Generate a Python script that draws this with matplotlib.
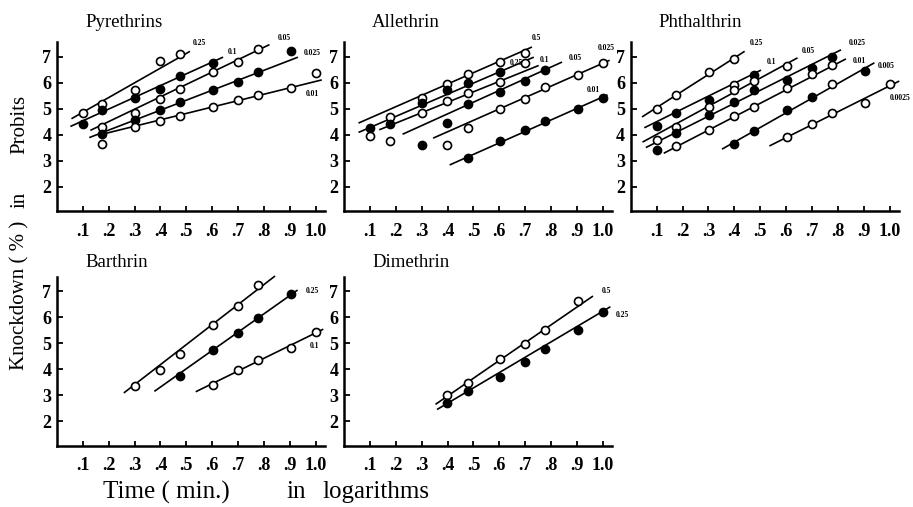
import matplotlib
matplotlib.use("Agg")
import matplotlib.pyplot as plt

# ---------------- data (x = log10 time, y = probit) ----------------
# Pyrethrins
pyr_conc = ["0.25", "0.1", "0.05", "0.025", "0.01"]
pyr_x = [[0.1, 0.176, 0.301, 0.398, 0.477],
         [0.1, 0.176, 0.301, 0.398, 0.477, 0.602],
         [0.176, 0.301, 0.398, 0.477, 0.602, 0.699, 0.778],
         [0.176, 0.301, 0.398, 0.477, 0.602, 0.699, 0.778, 0.903],
         [0.176, 0.301, 0.398, 0.477, 0.602, 0.699, 0.778, 0.903, 1.0]]
pyr_y = [[4.82, 5.17, 5.72, 6.83, 7.09],
         [4.40, 4.95, 5.42, 5.74, 6.26, 6.77],
         [4.31, 4.85, 5.37, 5.76, 6.42, 6.81, 7.28],
         [4.03, 4.56, 4.95, 5.27, 5.72, 6.04, 6.42, 7.22],
         [3.64, 4.31, 4.54, 4.73, 5.05, 5.33, 5.53, 5.78, 6.36]]
pyr_fill = [[0] * 5, [1] * 6, [0] * 7, [1] * 8, [0] * 9]
pyr_line_x = [(0.059, 0.511), (0.055, 0.639), (0.132, 0.818), (0.128, 0.928), (0.164, 1.02)]
pyr_line_y = [(4.63, 7.19), (4.33, 6.97), (4.18, 7.45), (3.90, 6.97), (3.99, 6.10)]

# Allethrin
all_conc = ["0.5", "0.25", "0.1", "0.05", "0.025", "0.01"]
all_x = [[0.301, 0.398, 0.477, 0.602, 0.699],
         [0.1, 0.176, 0.301, 0.398, 0.477, 0.602, 0.699],
         [0.1, 0.176, 0.301, 0.398, 0.477, 0.602],
         [0.176, 0.398, 0.477, 0.602, 0.699, 0.778],
         [0.301, 0.398, 0.477, 0.602, 0.699, 0.778, 0.903, 1.0],
         [0.477, 0.602, 0.699, 0.778, 0.903, 1.0]]
all_y = [[5.43, 5.94, 6.35, 6.81, 7.14],
         [4.24, 4.68, 5.23, 5.71, 5.97, 6.42, 6.75],
         [3.94, 4.42, 4.85, 5.30, 5.62, 6.01],
         [3.77, 4.46, 5.19, 5.65, 6.05, 6.48],
         [3.62, 3.62, 4.24, 4.97, 5.39, 5.84, 6.30, 6.75],
         [3.10, 3.75, 4.20, 4.52, 4.97, 5.43]]
all_fill = [[0, 0, 0, 0, 0],
            [1, 0, 1, 1, 1, 1, 0],
            [0, 1, 0, 0, 0, 0],
            [0, 1, 1, 1, 1, 1],
            [1, 0, 0, 0, 0, 0, 0, 0],
            [1, 1, 1, 1, 1, 1]]
all_line_x = [(0.059, 0.723), (0.059, 0.730), (0.139, 0.749), (0.229, 0.839), (0.347, 1.023), (0.411, 1.015)]
all_line_y = [(4.46, 7.36), (4.10, 6.97), (4.20, 6.65), (4.03, 6.78), (3.88, 6.85), (2.85, 5.52)]

# Phthalthrin
pht_conc = ["0.25", "0.1", "0.05", "0.025", "0.01", "0.005", "0.0025"]
pht_x = [[0.1, 0.176, 0.301, 0.398],
         [0.1, 0.176, 0.301, 0.398, 0.477],
         [0.1, 0.176, 0.301, 0.398, 0.477, 0.602],
         [0.1, 0.176, 0.301, 0.398, 0.477, 0.602, 0.699, 0.778],
         [0.176, 0.301, 0.398, 0.477, 0.602, 0.699, 0.778],
         [0.398, 0.477, 0.602, 0.699, 0.778, 0.903],
         [0.602, 0.699, 0.778, 0.903, 1.0]]
pht_y = [[4.97, 5.54, 6.41, 6.91],
         [4.34, 4.85, 5.35, 5.92, 6.30],
         [3.80, 4.30, 5.08, 5.71, 6.08, 6.66],
         [3.42, 4.05, 4.75, 5.27, 5.71, 6.09, 6.58, 7.00],
         [3.58, 4.18, 4.72, 5.08, 5.80, 6.34, 6.68],
         [3.65, 4.13, 4.95, 5.46, 5.95, 6.46],
         [3.90, 4.41, 4.82, 5.23, 5.95]]
pht_fill = [[0] * 4,
            [1, 1, 1, 0, 1],
            [0] * 6,
            [1] * 8,
            [0] * 7,
            [1, 1, 1, 1, 0, 1],
            [0] * 5]
pht_line_x = [(0.046, 0.437), (0.055, 0.50), (0.048, 0.641), (0.061, 0.809), (0.13, 0.828), (0.355, 0.938), (0.538, 1.034)]
pht_line_y = [(4.70, 7.19), (4.28, 6.47), (3.73, 6.94), (3.52, 7.25), (3.30, 6.90), (3.46, 6.75), (3.58, 6.05)]

# Barthrin
bar_conc = ["0.5", "0.25", "0.1"]
bar_x = [[0.301, 0.398, 0.477, 0.602, 0.699, 0.778],
         [0.477, 0.602, 0.699, 0.778, 0.903],
         [0.602, 0.699, 0.778, 0.903, 1.0]]
bar_y = [[3.36, 3.96, 4.58, 5.70, 6.43, 7.26],
         [3.75, 4.73, 5.41, 5.98, 6.90],
         [3.40, 3.96, 4.35, 4.81, 5.44]]
bar_fill = [[0] * 6, [1] * 5, [0] * 5]
bar_line_x = [(0.261, 0.84), (0.379, 0.927), (0.539, 1.026)]
bar_line_y = [(3.11, 7.57), (3.17, 7.03), (3.15, 5.53)]

# Dimethrin
dim_conc = ["0.5", "0.25"]
dim_x = [[0.398, 0.477, 0.602, 0.699, 0.778, 0.903],
         [0.398, 0.477, 0.602, 0.699, 0.778, 0.903, 1.0]]
dim_y = [[3.02, 3.46, 4.38, 4.96, 5.50, 6.62],
         [2.70, 3.17, 3.69, 4.29, 4.80, 5.50, 6.20]]
dim_fill = [[0] * 6, [1] * 7]
dim_line_x = [(0.356, 0.959), (0.362, 1.026)]
dim_line_y = [(2.67, 6.80), (2.47, 6.39)]

x_ticks = [0.1, 0.2, 0.3, 0.4, 0.5, 0.6, 0.7, 0.8, 0.9, 1.0]
x_tick_labels = [".1", ".2", ".3", ".4", ".5", ".6", ".7", ".8", ".9", "1.0"]
y_ticks = [2, 3, 4, 5, 6, 7]
y_tick_labels = ["2", "3", "4", "5", "6", "7"]

# ---------------- layout / style ----------------
SERIF = ["Liberation Serif", "DejaVu Serif"]
W, H = 913, 507
fig = plt.figure(figsize=(W / 100, H / 100), dpi=100)

col_left = [56.9, 344.0, 630.8]
ax_w = 268.0
row_bottom = [211.4, 446.0]
ax_h = 169.0
title_y = [1.12, 1.085]

# label offsets (points) from the end of each fitted line
pyr_off = [(7, 6), (7, 4), (11, 5), (11, 3), (-6, -10)]
all_off = [(4, 7), (-12, -4), (5, 4), (10, 3), (-2, 9), (-10, 4)]
pht_off = [(9, 6), (8, 6), (8, 5), (12, 5), (10, -1), (9, -2), (1, -12)]
bar_off = [(9, 4), (11, 0), (-6, -12)]
dim_off = [(10, 4), (9, -6)]

panels = [
    ("Pyrethrins", 0, 0, pyr_conc, pyr_x, pyr_y, pyr_fill, pyr_line_x, pyr_line_y, pyr_off),
    ("Allethrin", 0, 1, all_conc, all_x, all_y, all_fill, all_line_x, all_line_y, all_off),
    ("Phthalthrin", 0, 2, pht_conc, pht_x, pht_y, pht_fill, pht_line_x, pht_line_y, pht_off),
    ("Barthrin", 1, 0, bar_conc, bar_x, bar_y, bar_fill, bar_line_x, bar_line_y, bar_off),
    ("Dimethrin", 1, 1, dim_conc, dim_x, dim_y, dim_fill, dim_line_x, dim_line_y, dim_off),
]

for title, r, c, conc, xs, ys, fills, lx, ly, offs in panels:
    ax = fig.add_axes([col_left[c] / W, 1 - row_bottom[r] / H, ax_w / W, ax_h / H])
    ax.set_xlim(0, 1.035)
    ax.set_ylim(1.05, 7.55)
    for s in ("top", "right"):
        ax.spines[s].set_visible(False)
    for s in ("left", "bottom"):
        ax.spines[s].set_linewidth(1.8)
    ax.set_xticks(x_ticks)
    ax.set_xticklabels(x_tick_labels)
    ax.set_yticks(y_ticks)
    ax.set_yticklabels(y_tick_labels)
    ax.tick_params(axis="x", direction="in", length=3.5, width=1.3, pad=8)
    ax.tick_params(axis="y", direction="in", length=4, width=1.3, pad=4)
    for lab in ax.get_xticklabels() + ax.get_yticklabels():
        lab.set_family(SERIF)
        lab.set_fontweight("bold")
        lab.set_fontsize(13)
    ax.text(0.105, title_y[r], title, transform=ax.transAxes, ha="left", va="center",
            family=SERIF, fontsize=13.5)
    for k in range(len(conc)):
        ax.plot(lx[k], ly[k], color="black", lw=1.2, clip_on=False, zorder=2)
        for xv, yv, f in zip(xs[k], ys[k], fills[k]):
            ax.plot([xv], [yv], marker="o", ms=5.8, mew=1.2, mec="black",
                    mfc="black" if f else "white", ls="none", clip_on=False, zorder=3)
        ax.annotate(conc[k], xy=(lx[k][1], ly[k][1]), xytext=offs[k],
                    textcoords="offset points", ha="center", va="center",
                    family=SERIF, fontweight="bold", fontsize=5.5)

# axis titles (spread out as in the original)
fig.text(20 / W, 1 - 295 / H, "Knockdown ( % )", rotation=90,
         ha="center", va="center", family=SERIF, fontsize=15)
fig.text(20 / W, 1 - 200 / H, "in", rotation=90,
         ha="center", va="center", family=SERIF, fontsize=15)
fig.text(20 / W, 1 - 124 / H, "Probits", rotation=90,
         ha="center", va="center", family=SERIF, fontsize=15)
fig.text(103 / W, 1 - 492 / H, "Time ( min.)", ha="left", va="center",
         family=SERIF, fontsize=18)
fig.text(296 / W, 1 - 492 / H, "in", ha="center", va="center",
         family=SERIF, fontsize=18)
fig.text(322 / W, 1 - 492 / H, "logarithms", ha="left", va="center",
         family=SERIF, fontsize=18)

fig.savefig("out.png", dpi=100)
